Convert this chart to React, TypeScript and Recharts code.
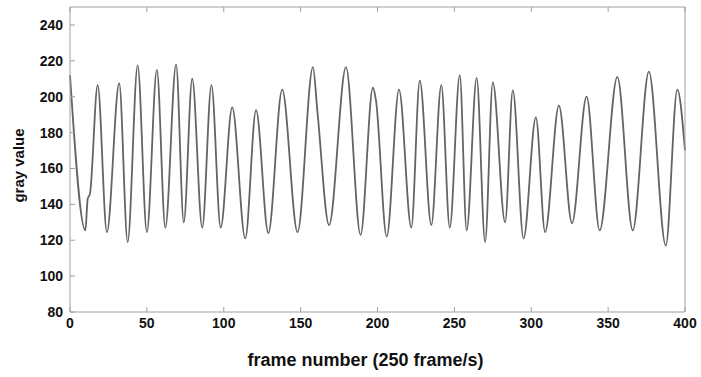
import { LineChart, Line, XAxis, YAxis } from "recharts";

// frame number (x) and gray value (y) at the turning points of the trace
const frames = [
  0, 10, 11.5, 13, 18, 24, 32, 37.5, 44, 50, 56.5, 62, 69, 74, 79.5, 86, 92, 98,
  105.5, 114, 121, 129, 138, 148, 158, 161, 168.5, 179.5, 189, 197, 199, 206,
  214, 222, 227.5, 235, 241.5, 247, 253.5, 258, 264.5, 270, 275, 283, 288, 295,
  303, 309, 318, 326.5, 336, 344.5, 356, 366, 376.5, 387.5, 395, 400,
];
const grayValues = [
  212, 125.5, 143, 146, 206.5, 124.5, 207.5, 119, 217.5, 124.5, 215, 127, 218,
  130, 210, 127, 206.5, 127, 194, 121, 192.5, 124, 204, 124.5, 216.5, 191, 128.5,
  216.5, 123, 205, 198, 122, 204, 127, 209, 128.5, 206.5, 127, 212, 125.5, 210.5,
  119, 208, 130, 203.5, 121, 188.5, 124.5, 195, 129.5, 200, 125.5, 211, 125.5,
  214, 117, 204, 170,
];
const xTicks = [0, 50, 100, 150, 200, 250, 300, 350, 400];
const yTicks = [80, 100, 120, 140, 160, 180, 200, 220, 240];

const data = frames.map((frame, i) => ({ frame, gray: grayValues[i] }));

const font = "'Liberation Sans', Arial, sans-serif";
const axisColor = "#a0a0a0";
const tickStyle = { fill: "#111", fontSize: 14, fontWeight: 700, fontFamily: font };
const blankTick = () => <g />;

export default function App() {
  return (
    <div style={{ position: "absolute", left: 0, top: 0, width: 701, height: 377, background: "#fff" }}>
      <LineChart width={701} height={377} data={data} margin={{ top: 0, right: 0, bottom: 0, left: 0 }}>
        <XAxis
          xAxisId="bottom"
          dataKey="frame"
          type="number"
          domain={[0, 400]}
          ticks={xTicks}
          height={65}
          tickSize={-5}
          tickMargin={11}
          tick={tickStyle}
          tickLine={{ stroke: axisColor }}
          axisLine={{ stroke: axisColor }}
          label={{
            content: (props: any) => {
              const { x, y, width } = props.viewBox;
              return (
                <text x={x + width / 2 - 12} y={y + 54} textAnchor="middle" fill="#111" fontSize={18} fontWeight={700} fontFamily={font}>
                  frame number (250 frame/s)
                </text>
              );
            },
          }}
        />
        <XAxis
          xAxisId="top"
          orientation="top"
          dataKey="frame"
          type="number"
          domain={[0, 400]}
          ticks={xTicks}
          height={7}
          tickSize={-5}
          tick={blankTick}
          tickLine={{ stroke: axisColor }}
          axisLine={{ stroke: axisColor }}
        />
        <YAxis
          yAxisId="left"
          type="number"
          domain={[80, 250]}
          ticks={yTicks}
          width={70}
          tickSize={-5}
          tickMargin={12}
          tick={tickStyle}
          tickLine={{ stroke: axisColor }}
          axisLine={{ stroke: axisColor }}
          label={{
            content: (props: any) => {
              const { y, height } = props.viewBox;
              const cy = y + height / 2 + 6;
              return (
                <text x={24} y={cy} transform={`rotate(-90 24 ${cy})`} textAnchor="middle" fill="#111" fontSize={15} fontWeight={700} fontFamily={font}>
                  gray value
                </text>
              );
            },
          }}
        />
        <YAxis
          yAxisId="right"
          orientation="right"
          type="number"
          domain={[80, 250]}
          ticks={yTicks}
          width={16}
          tickSize={-5}
          tick={blankTick}
          tickLine={{ stroke: axisColor }}
          axisLine={{ stroke: axisColor }}
        />
        <Line
          xAxisId="bottom"
          yAxisId="left"
          dataKey="gray"
          type="monotone"
          stroke="#646464"
          strokeWidth={1.8}
          dot={false}
          isAnimationActive={false}
        />
      </LineChart>
    </div>
  );
}
